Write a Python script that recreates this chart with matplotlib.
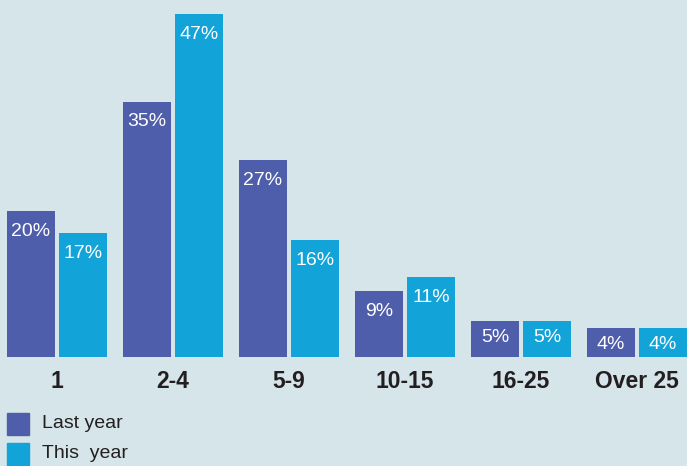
import matplotlib
matplotlib.use("Agg")
import matplotlib.pyplot as plt
import numpy as np
from matplotlib.patches import Rectangle

categories = ["1", "2-4", "5-9", "10-15", "16-25", "Over 25"]
last_year = [20, 35, 27, 9, 5, 4]
this_year = [17, 47, 16, 11, 5, 4]
series_names = ["Last year", "This  year"]

bg = "#d5e5ea"
c_last = "#4f5eaa"
c_this = "#12a4d9"
txt = "#231f20"

plt.rcParams['font.family'] = ['Liberation Sans', 'DejaVu Sans']

W, H = 687, 466
fig = plt.figure(figsize=(W/100, H/100), dpi=100, facecolor=bg)
base_px = 357
ax = fig.add_axes([0, (H - base_px)/H, 1, base_px/H])
ax.set_facecolor(bg)
for s in ax.spines.values():
    s.set_visible(False)
ax.set_xticks([]); ax.set_yticks([])

x = np.arange(len(categories))
w = 48/116
off = 26/116
ax.set_xlim(-57/116, (W-57)/116)
ax.set_ylim(0, base_px/7.3)

b1 = ax.bar(x - off, last_year, w, color=c_last)
b2 = ax.bar(x + off, this_year, w, color=c_this)

for bars, vals in ((b1, last_year), (b2, this_year)):
    for b, v in zip(bars, vals):
        cx = b.get_x() + b.get_width()/2
        dy = -8.5 if v > 6 else -6
        ax.annotate(f"{v}%", (cx, v), xytext=(0, dy), textcoords="offset points",
                    ha="center", va="top", color="white", fontsize=14)

for xi, c in zip(x, categories):
    ax.annotate(c, (xi, 0), xytext=(0, -9), textcoords="offset points",
                ha="center", va="top", color=txt, fontsize=16.5, fontweight="bold",
                annotation_clip=False)

# legend
for i, (name, col) in enumerate(zip(series_names, [c_last, c_this])):
    y0 = 413 + i*30
    fig.patches.append(Rectangle((7/W, 1 - (y0+22)/H), 22/W, 22/H, transform=fig.transFigure,
                                 color=col))
    fig.text(42/W, 1 - (y0+11)/H, name, ha="left", va="center", color=txt, fontsize=14)

fig.savefig("out.png", dpi=100, facecolor=bg)
